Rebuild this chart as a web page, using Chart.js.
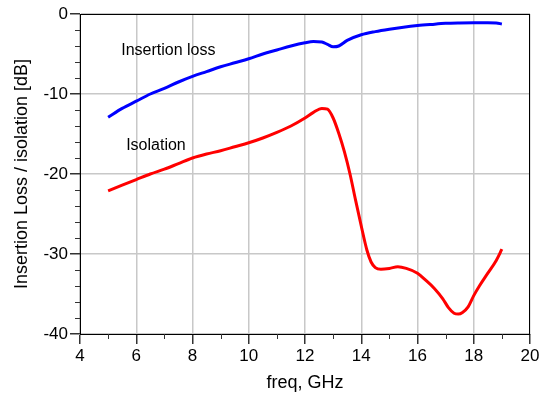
<!DOCTYPE html>
<html><head><meta charset="utf-8">
<script src="https://cdn.jsdelivr.net/npm/chart.js@4"></script>
<style>html,body{margin:0;padding:0;background:#fff}#wrap{width:545px;height:398px}</style>
</head><body><div id="wrap"><canvas id="c" width="545" height="398"></canvas></div>
<script>
const insFreq = [5,5.5,6,6.5,7,7.5,8,8.5,9,9.5,10,10.5,11,11.5,12,12.3,12.6,12.8,13,13.2,13.5,14,14.5,15,15.5,16,16.5,17,17.5,18,18.5,18.8,19];
const insLoss = [-12.9,-11.8,-10.9,-10.0,-9.3,-8.5,-7.8,-7.2,-6.6,-6.1,-5.6,-5.0,-4.5,-4.0,-3.6,-3.45,-3.5,-3.8,-4.1,-4.0,-3.3,-2.6,-2.2,-1.9,-1.65,-1.45,-1.3,-1.17,-1.12,-1.1,-1.1,-1.12,-1.25];
const isoFreq = [5,5.5,6,6.5,7,7.5,8,8.5,9,9.5,10,10.5,11,11.5,12,12.3,12.6,12.8,13,13.2,13.4,13.6,13.8,14.0,14.2,14.35,14.5,14.7,15.0,15.3,15.6,16.0,16.3,16.6,16.9,17.1,17.3,17.45,17.6,17.8,18.0,18.2,18.5,18.8,19.0];
const isolation = [-22.1,-21.4,-20.7,-20.0,-19.4,-18.7,-18.0,-17.5,-17.1,-16.6,-16.1,-15.5,-14.8,-14.0,-13.0,-12.3,-11.8,-11.9,-13.0,-14.9,-17.2,-20.0,-23.3,-26.5,-29.5,-31.0,-31.7,-31.9,-31.8,-31.6,-31.8,-32.4,-33.3,-34.3,-35.6,-36.7,-37.4,-37.5,-37.3,-36.6,-35.2,-34.0,-32.4,-30.8,-29.4];
const xTicks = [4,6,8,10,12,14,16,18,20];
const yTicks = [0,-10,-20,-30,-40];
const labels = [
  {text:'Insertion loss', x:7.14, y:-4.6},
  {text:'Isolation', x:6.7, y:-16.4}
];
const FONT = '"Liberation Sans", Arial, sans-serif';

const extras = {
  id:'extras',
  afterDraw(chart){
    const {ctx, chartArea:a, scales:{x,y}} = chart;
    ctx.save();
    ctx.strokeStyle = '#000'; ctx.lineWidth = 1;
    ctx.strokeRect(Math.round(a.left)+0.5, Math.round(a.top)+0.5, Math.round(a.right-a.left)-1, Math.round(a.bottom-a.top));
    ctx.strokeStyle = '#333';
    ctx.beginPath();
    for (let v=-38; v<0; v+=2){ if (v%10===0) continue; const p=Math.round(y.getPixelForValue(v))+0.5; ctx.moveTo(a.left-5,p); ctx.lineTo(a.left,p);}    
    for (let v=5; v<20; v+=2){ const p=Math.round(x.getPixelForValue(v))+0.5; ctx.moveTo(p,a.bottom); ctx.lineTo(p,a.bottom+5);}    
    ctx.stroke();
    ctx.fillStyle = '#000'; ctx.font = '16px '+FONT; ctx.textAlign='center'; ctx.textBaseline='middle';
    labels.forEach(l=>ctx.fillText(l.text, x.getPixelForValue(l.x), y.getPixelForValue(l.y)));
    ctx.restore();
  }
};

new Chart(document.getElementById('c'), {
  type:'line',
  data:{datasets:[
    {data: insFreq.map((f,i)=>({x:f,y:insLoss[i]})), borderColor:'#0000ff', borderWidth:3, pointRadius:0, cubicInterpolationMode:'monotone', fill:false},
    {data: isoFreq.map((f,i)=>({x:f,y:isolation[i]})), borderColor:'#ff0000', borderWidth:3, pointRadius:0, cubicInterpolationMode:'monotone', fill:false}
  ]},
  options:{
    responsive:false, animation:false,
    layout:{padding:{top:14,right:15,left:0,bottom:0}},
    plugins:{legend:{display:false}, tooltip:{enabled:false}},
    scales:{
      x:{type:'linear', min:4, max:20,
        afterBuildTicks(s){ s.ticks = xTicks.map(v=>({value:v})); },
        afterFit(s){ s.height = 64; },
        grid:{color:'#c8c8c8', lineWidth:1.5, tickLength:10, tickColor:'#333', drawTicks:true},
        border:{color:'#000', width:1},
        ticks:{color:'#000', font:{family:FONT, size:17}, padding:2, maxRotation:0},
        title:{display:true, text:'freq, GHz', color:'#000', font:{family:FONT, size:18}, padding:{top:0,bottom:4}}
      },
      y:{type:'linear', min:-40, max:0,
        afterBuildTicks(s){ s.ticks = yTicks.map(v=>({value:v})); },
        afterFit(s){ s.width = 80; },
        grid:{color:'#c8c8c8', lineWidth:1.5, tickLength:10, tickColor:'#333'},
        border:{color:'#000', width:1},
        ticks:{color:'#000', font:{family:FONT, size:17}, padding:2},
        title:{display:true, text:'Insertion Loss / isolation [dB]', color:'#000', font:{family:FONT, size:18}, padding:{top:11,bottom:0}}
      }
    }
  },
  plugins:[extras]
});
</script></body></html>
